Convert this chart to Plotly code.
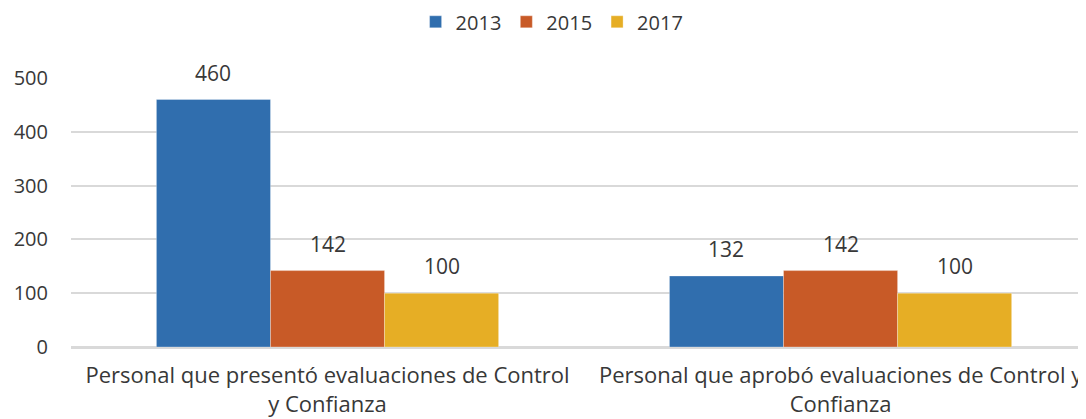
import plotly.graph_objects as go

categories = ["Personal que presentó evaluaciones de Control<br>y Confianza",
              "Personal que aprobó evaluaciones de Control y<br>Confianza"]
series_names = ["2013", "2015", "2017"]
values_2013 = [460, 132]
values_2015 = [142, 142]
values_2017 = [100, 100]
y_ticks = [0, 100, 200, 300, 400, 500]

colors = ["#306EAE", "#C85A27", "#E6AE25"]
all_values = [values_2013, values_2015, values_2017]

FONT = "Open Sans, Noto Sans, sans-serif"
TXT = "#383838"

fig = go.Figure()
for name, vals, col in zip(series_names, all_values, colors):
    fig.add_trace(go.Bar(
        x=[0, 1], y=vals, name=name,
        marker=dict(color=col, line=dict(color="rgba(255,255,255,0.6)", width=0.5)),
    ))

group_frac = 0.667
bw = group_frac / 3
offsets = [-bw, 0, bw]
for vals, off in zip(all_values, offsets):
    for i, v in enumerate(vals):
        fig.add_annotation(x=i + off, y=v, text=str(v), showarrow=False,
                           yanchor="bottom", yshift=11,
                           font=dict(family=FONT, size=21, color=TXT))

# Note: page body has an 8px default margin; margins compensate for it.
fig.update_layout(
    width=1086, height=419,
    margin=dict(l=63, r=0, t=70, b=80, autoexpand=False),
    paper_bgcolor="white", plot_bgcolor="white",
    barmode="group", bargap=1 - group_frac, bargroupgap=0,
    font=dict(family=FONT, size=20, color=TXT),
    legend=dict(orientation="h", x=0.501, xanchor="center", xref="container",
                y=0.967, yanchor="middle", yref="container",
                font=dict(family=FONT, size=20, color=TXT),
                itemwidth=30, traceorder="normal"),
    showlegend=True,
)
fig.update_xaxes(
    range=[-0.5, 1.494],
    tickmode="array", tickvals=[0, 1], ticktext=categories,
    tickfont=dict(family=FONT, size=22, color=TXT),
    showgrid=False, showline=True, linecolor="#D9D9D9", linewidth=1.5,
    ticks="", fixedrange=True, automargin=False, ticklabelstandoff=8,
)
fig.update_yaxes(
    range=[0, 500], tickvals=y_ticks,
    showgrid=True, gridcolor="#D9D9D9", gridwidth=1.5,
    zeroline=True, zerolinecolor="#D9D9D9", zerolinewidth=1.5,
    tickfont=dict(family=FONT, size=20, color=TXT),
    ticklabelstandoff=22, automargin=False,
)

fig.write_html("out.html")
